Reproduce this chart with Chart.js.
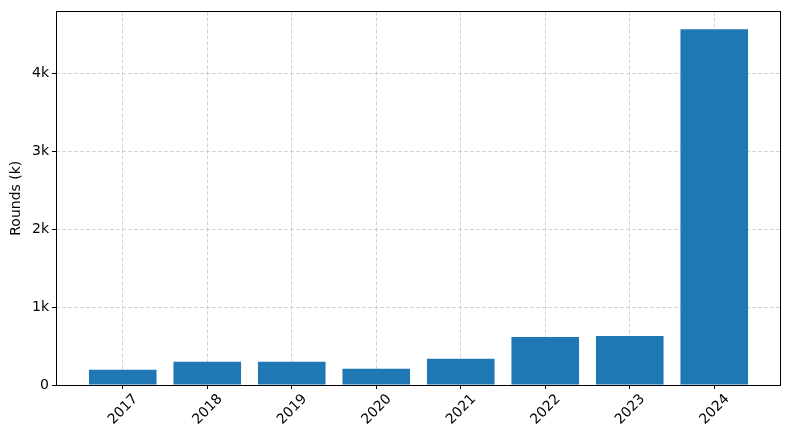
<!DOCTYPE html>
<html lang="en">
<head>
    <meta charset="UTF-8">
    <title>Rounds per year</title>
    <script src="https://cdn.jsdelivr.net/npm/chart.js@4.4.1/dist/chart.umd.min.js"></script>
    <style>
        html, body { margin: 0; padding: 0; background: #fff; }
        #wrap { width: 790px; height: 440px; }
    </style>
</head>
<body>
    <div id="wrap"><canvas id="roundsChart" width="790" height="440"></canvas></div>
    <script>
        var years = ['2017', '2018', '2019', '2020', '2021', '2022', '2023', '2024'];
        var rounds = [195, 298, 298, 208, 336, 617, 630, 4566];
        var yTicks = [0, 1000, 2000, 3000, 4000];

        // matplotlib style: 5% margin above the tallest bar, 0.39 each side of x
        var yMax = Math.max.apply(null, rounds) * 1.05;

        var frame = {
            id: 'frame',
            afterDraw: function (chart) {
                var a = chart.chartArea, ctx = chart.ctx;
                ctx.save();
                ctx.strokeStyle = '#000';
                ctx.lineWidth = 1;
                ctx.strokeRect(Math.round(a.left) + 0.5, Math.round(a.top) + 0.5,
                    Math.round(a.right - a.left) - 1, Math.round(a.bottom - a.top));
                ctx.restore();
            }
        };

        Chart.defaults.font.family = 'DejaVu Sans';
        Chart.defaults.font.size = 14;
        Chart.defaults.color = '#000';

        var ctx = document.getElementById('roundsChart');
        new Chart(ctx, {
            type: 'bar',
            data: {
                datasets: [{
                    data: rounds.map(function (v, i) { return {x: i, y: v}; }),
                    backgroundColor: '#1f77b4',
                    borderWidth: 0,
                    barPercentage: 1,
                    categoryPercentage: 0.8
                }]
            },
            options: {
                responsive: false,
                animation: false,
                layout: { padding: { left: 0, top: 10, right: 9, bottom: 0 } },
                plugins: { legend: { display: false }, tooltip: { enabled: false } },
                scales: {
                    x: {
                        type: 'linear',
                        min: -0.79,
                        max: years.length - 1 + 0.79,
                        offset: false,
                        z: 1,
                        afterBuildTicks: function (scale) {
                            scale.ticks = years.map(function (_, i) { return {value: i}; });
                        },
                        afterFit: function (scale) { scale.height = 55; },
                        grid: {
                            offset: false,
                            color: 'rgba(176,176,176,0.55)',
                            lineWidth: 1,
                            tickColor: '#000',
                            tickLength: 4,
                            tickWidth: 1
                        },
                        border: { display: false, dash: [4, 2] },
                        ticks: {
                            minRotation: 45,
                            maxRotation: 45,
                            labelOffset: 13,
                            padding: 2,
                            callback: function (v) { return years[v]; }
                        }
                    },
                    y: {
                        min: 0,
                        max: yMax,
                        z: 1,
                        afterBuildTicks: function (scale) {
                            scale.ticks = yTicks.map(function (v) { return {value: v}; });
                        },
                        afterFit: function (scale) { scale.width = 56; },
                        grid: {
                            color: 'rgba(176,176,176,0.55)',
                            lineWidth: 1,
                            tickColor: '#000',
                            tickLength: 4,
                            tickWidth: 1
                        },
                        border: { display: false, dash: [4, 2] },
                        ticks: {
                            padding: 3,
                            callback: function (v) { return v === 0 ? '0' : (v / 1000) + 'k'; }
                        },
                        title: {
                            display: true,
                            text: 'Rounds (k)',
                            padding: { top: 8, bottom: 0 }
                        }
                    }
                }
            },
            plugins: [frame]
        });
    </script>
</body>
</html>
